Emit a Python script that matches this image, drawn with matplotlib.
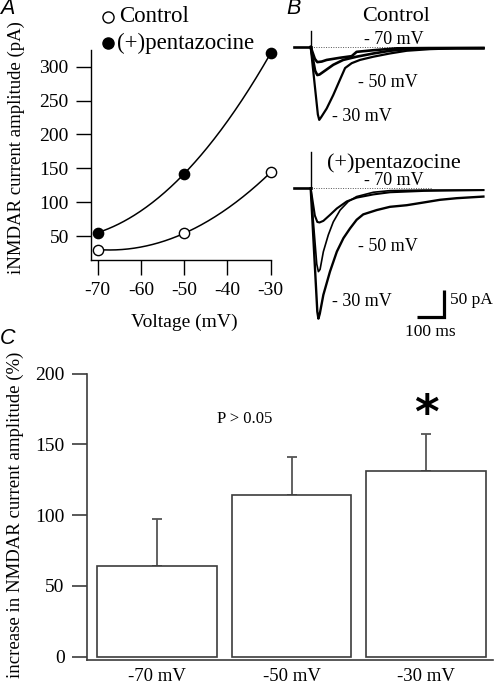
import numpy as np
import matplotlib
matplotlib.use("Agg")
import matplotlib.pyplot as plt

# ---------------- data ----------------
# Panel A: I-V relation
voltage = [-70, -50, -30]
control_amp = [30, 54, 144]
pentazocine_amp = [55, 142, 320]
a_xticks = [-70, -60, -50, -40, -30]
a_yticks = [50, 100, 150, 200, 250, 300]

# Panel B: example traces (time in ms after stimulus, current in pA re baseline)
pre_t = [-61, 0]
ctrl_spike = 30
pz_spike = 68
ctrl_m70_t = [0, 15, 24, 40, 58, 106, 149, 167, 228, 313, 430, 628]
ctrl_m70_i = [0, -22, -28, -27, -24, -20, -17, -9, -6, -2.5, -2, -2]
ctrl_m50_t = [0, 16, 24, 32, 46, 82, 118, 167, 228, 288, 349, 434, 628]
ctrl_m50_i = [0, -44, -52, -51, -46, -33, -24, -18, -12, -7, -4, -2.5, -2]
ctrl_m30_t = [0, 26, 31, 38, 58, 82, 106, 125, 149, 179, 228, 288, 349, 434, 531, 628]
ctrl_m30_i = [0, -125, -135, -130, -114, -89, -61, -39, -30, -24, -18, -12, -7, -4, -2.5, -2.5]
pz_m70_t = [0, 15, 24, 32, 46, 70, 95, 131, 167, 228, 288, 410, 628]
pz_m70_i = [0, -50, -62, -63, -60, -49, -37, -24, -17, -11, -7, -4.5, -3]
pz_m50_t = [0, 22, 28, 34, 46, 64, 82, 107, 137, 167, 228, 288, 410, 628]
pz_m50_i = [0, -140, -154, -150, -117, -86, -62, -40, -24, -15, -7, -4, -3, -3]
pz_m30_t = [0, 24, 28, 33, 46, 70, 95, 119, 143, 167, 191, 240, 288, 349, 410, 470, 531, 628]
pz_m30_i = [0, -228, -241, -232, -197, -154, -117, -92, -74, -58, -48, -40, -34, -31, -26, -21, -18, -15]
scalebar_ms = 100
scalebar_pA = 50

# Panel C: percent increase
categories = ["-70 mV", "-50 mV", "-30 mV"]
increase = [64, 114, 131]
increase_sem = [33, 27, 26]
c_yticks = [0, 50, 100, 150, 200]

# ---------------- layout helpers ----------------
W, H = 496, 685
fig = plt.figure(figsize=(W / 100, H / 100), dpi=100)
SERIF = "Liberation Serif"
SANS = "Liberation Sans"
plt.rcParams["font.family"] = SERIF


def rect(x0, y0, x1, y1):
    return [x0 / W, 1 - y1 / H, (x1 - x0) / W, (y1 - y0) / H]


def ftext(x, y, s, **kw):
    fig.text(x / W, 1 - y / H, s, **kw)


# ---------------- Panel A ----------------
axA = fig.add_axes(rect(90.7, 50, 270.7, 260))
vv = np.linspace(voltage[0], voltage[-1], 200)
for amp in (control_amp, pentazocine_amp):
    coef = np.polyfit(voltage, amp, 2)
    axA.plot(vv, np.polyval(coef, vv), color="black", lw=1.1, clip_on=False)
axA.plot(voltage, control_amp, "o", ms=7.4, mfc="white", mec="black", mew=1.0,
         clip_on=False, zorder=5)
axA.plot(voltage, pentazocine_amp, "o", ms=7.4, mfc="black", mec="black",
         clip_on=False, zorder=5)
axA.set_xlim(-71.62, -30)
axA.set_ylim(14.6, 324.7)
axA.set_xticks(a_xticks)
axA.set_xticklabels([str(t) for t in a_xticks])
axA.set_yticks(a_yticks)
for s in ("top", "right"):
    axA.spines[s].set_visible(False)
for s in ("left", "bottom"):
    axA.spines[s].set_linewidth(1.0)
axA.tick_params(direction="out", length=10.8, width=1.0, labelsize=14, pad=5)
axA.set_xlabel("Voltage (mV)", fontsize=14)
axA.set_ylabel("iNMDAR current amplitude (pA)", fontsize=13.5)
axA.xaxis.set_label_coords((184 - 90.7) / 180, -(322 - 260) / 210)
axA.yaxis.set_label_coords((16.7 - 90.7) / 180, (260 - 148) / 210)
axA.xaxis.label.set_va("center")
axA.yaxis.label.set_va("center")

# legend (manual)
fig.add_artist(plt.Line2D([108.3 / W], [1 - 16.7 / H], marker="o", ms=8,
                          mfc="white", mec="black", mew=1.0, ls="none"))
fig.add_artist(plt.Line2D([108.3 / W], [1 - 43.3 / H], marker="o", ms=8,
                          mfc="black", mec="black", ls="none"))
ftext(119, 16.7, "Control", fontsize=16.5, va="center", ha="left")
ftext(117.5, 43.3, "(+)pentazocine", fontsize=16.5, va="center", ha="left")

# panel letters
ftext(0, 9, "A", fontsize=15.5, family=SANS, style="italic", va="center")
ftext(286, 9, "B", fontsize=15.5, family=SANS, style="italic", va="center")
ftext(0, 338, "C", fontsize=15.5, family=SANS, style="italic", va="center")

# ---------------- Panel B ----------------
axB = fig.add_axes(rect(290, 0, 496, 340))
axB.set_xlim(-75.3, 673.8)
axB.set_ylim(-542.6, 87.0)
axB.axis("off")
pz_off = -262.0

for off, spike in ((0.0, ctrl_spike), (pz_off, pz_spike)):
    axB.plot(pre_t, [off, off], color="black", lw=1.9)
    axB.plot([0, 0], [off, off + spike], color="black", lw=1.0)
    axB.plot([0, 441], [off, off], color="#555555", lw=0.7, ls=(0, (1, 1.5)))

for t, i, lw in ((ctrl_m70_t, ctrl_m70_i, 1.9), (ctrl_m50_t, ctrl_m50_i, 1.9),
                 (ctrl_m30_t, ctrl_m30_i, 1.6)):
    axB.plot(t, np.asarray(i), color="black", lw=lw, solid_joinstyle="round")
for t, i, lw in ((pz_m70_t, pz_m70_i, 1.5), (pz_m50_t, pz_m50_i, 1.2),
                 (pz_m30_t, pz_m30_i, 1.7)):
    axB.plot(t, np.asarray(i) + pz_off, color="black", lw=lw, solid_joinstyle="round")

# scale bar
sb_t, sb_i = 485, -500
axB.plot([sb_t - scalebar_ms, sb_t, sb_t], [sb_i, sb_i, sb_i + scalebar_pA],
         color="black", lw=2.3, solid_joinstyle="miter", solid_capstyle="butt")
axB.text(sb_t + 20, sb_i + scalebar_pA * 0.63, "%d pA" % scalebar_pA,
         fontsize=12.5, ha="left", va="center")
axB.text(sb_t - 51, sb_i - 28, "%d ms" % scalebar_ms, fontsize=12.5,
         ha="center", va="center")

axB.text(310, 56, "Control", fontsize=16, ha="center", va="center")
axB.text(303, -215, "(+)pentazocine", fontsize=16, ha="center", va="center")
lbl_kw = dict(fontsize=13, ha="center", va="center")
axB.text(302, 14, "- 70 mV", **lbl_kw)
axB.text(279, -65, "- 50 mV", **lbl_kw)
axB.text(186, -129, "- 30 mV", **lbl_kw)
axB.text(302, 14 + pz_off, "- 70 mV", **lbl_kw)
axB.text(279, -108 + pz_off, "- 50 mV", **lbl_kw)
axB.text(186, -210 + pz_off, "- 30 mV", **lbl_kw)

# ---------------- Panel C ----------------
axC = fig.add_axes(rect(86.5, 373.5, 493, 660))
xpos = np.arange(len(categories))
gray = "#3c3c3c"
axC.errorbar(xpos, increase, yerr=[np.zeros(len(increase)), increase_sem],
             fmt="none", ecolor="#555555", elinewidth=1.3, capsize=3.5,
             capthick=1.3, zorder=1)
axC.bar(xpos, increase, width=0.89, color="white", edgecolor=gray,
        linewidth=1.2, zorder=2)
axC.set_xlim(-0.521, 2.495)
axC.set_ylim(-2.33, 200)
axC.set_yticks(c_yticks)
axC.set_xticks(xpos)
axC.set_xticklabels(categories)
for s in ("top", "right"):
    axC.spines[s].set_visible(False)
for s in ("left", "bottom"):
    axC.spines[s].set_color(gray)
    axC.spines[s].set_linewidth(1.2)
axC.tick_params(axis="y", direction="out", length=10.8, width=1.2,
                color=gray, labelsize=14, pad=5)
axC.tick_params(axis="x", length=0, labelsize=13.5, pad=6)
axC.set_ylabel("increase in NMDAR current amplitude (%)", fontsize=13.5)
axC.yaxis.set_label_coords((15 - 86.5) / 406.5, (660 - 515) / 286.5)
axC.yaxis.label.set_va("center")
axC.text(0.651, 168, "P > 0.05", fontsize=12, ha="center", va="center")
axC.text(2.0, 170, "*", fontsize=34, ha="center", va="center",
         family="DejaVu Sans", fontweight="bold")

fig.savefig("out.png", dpi=100)
